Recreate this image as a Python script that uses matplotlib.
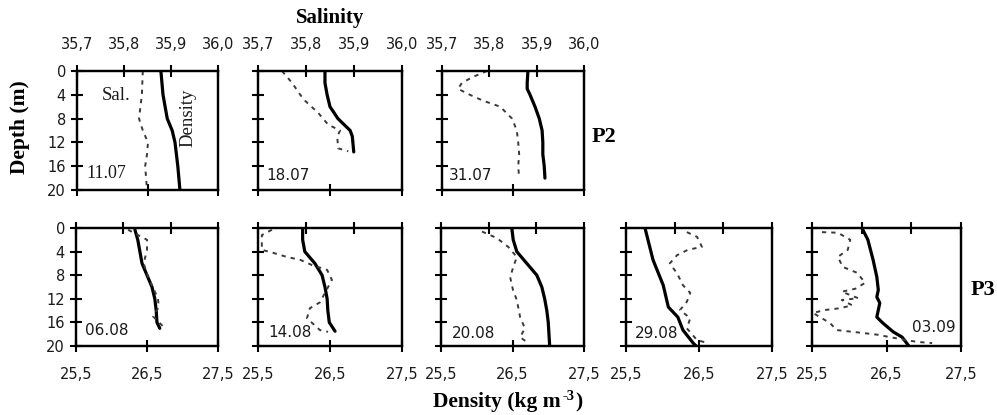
import matplotlib
matplotlib.use("Agg")
import matplotlib.pyplot as plt
from matplotlib.transforms import offset_copy

plt.rcParams["font.family"] = ["DejaVu Sans"]

# ---- Profiles: station P2 (top row) and P3 (bottom row) ----
dates = ["11.07", "18.07", "31.07", "06.08", "14.08", "20.08", "29.08", "03.09"]
stations = ["P2", "P3"]

# density profiles (kg m-3) vs depth (m)
dens_depth = [
    [0, 4, 8, 10, 12, 16, 20],
    [0, 2, 4, 6, 8, 10, 11, 13.6],
    [0, 2, 3, 4, 6, 8, 10, 12, 14, 16, 18],
    [0.3, 2, 4, 6, 8, 10, 12, 14, 16, 17],
    [0, 2, 4, 5, 6, 8, 10, 12, 14, 16, 17.5],
    [0, 2, 4, 6, 8, 10, 12, 14, 16, 18, 20],
    [0, 5.4, 9.7, 13.4, 15.1, 17.3, 19.5, 20],
    [0, 2, 5.4, 8.3, 10.5, 11.7, 12.7, 15.1, 16.1, 17.6, 18.5, 20],
]
dens_val = [
    [26.69, 26.72, 26.78, 26.85, 26.89, 26.93, 26.96],
    [26.43, 26.43, 26.46, 26.50, 26.61, 26.78, 26.81, 26.83],
    [26.71, 26.70, 26.70, 26.74, 26.81, 26.87, 26.91, 26.92, 26.92, 26.94, 26.95],
    [26.33, 26.37, 26.40, 26.43, 26.50, 26.57, 26.61, 26.63, 26.64, 26.68],
    [26.12, 26.12, 26.15, 26.22, 26.29, 26.39, 26.43, 26.46, 26.47, 26.49, 26.57],
    [26.49, 26.51, 26.56, 26.70, 26.84, 26.91, 26.95, 26.98, 27.00, 27.01, 27.02],
    [25.76, 25.87, 26.01, 26.08, 26.21, 26.28, 26.42, 26.46],
    [26.17, 26.25, 26.32, 26.37, 26.39, 26.37, 26.41, 26.37, 26.45, 26.59, 26.71, 26.80],
]

# salinity profiles vs depth (m)
sal_depth = [
    [0, 4, 8, 10, 12, 14, 16, 18, 20],
    [0, 2, 4, 5, 7, 9, 10, 11, 13, 13.5],
    [0, 1, 2, 3, 4, 5, 6, 8, 10, 12, 14, 16, 18],
    [0.3, 2, 3.7, 6, 8, 10, 11.9, 13.4, 15, 17],
    [0.3, 1.2, 2.3, 3.7, 4.2, 4.9, 5.4, 6.3, 7.1, 8.8, 12.6, 13.6, 15.3, 17.3, 17.6],
    [0.6, 1.7, 3.2, 4.9, 6.8, 8.3, 10.5, 12.2, 15.1, 17, 18.5, 19.5],
    [0.7, 1.5, 3.2, 3.7, 4.6, 6, 7.7, 9.7, 11, 12.5, 13.9, 15.3, 17, 19, 19.5],
    [0.7, 0.8, 2.0, 3.7, 4.9, 6.6, 7.6, 9.3, 10.3, 10.8, 11.9, 12.2, 13.1, 13.6,
     13.9, 14.4, 16.1, 17.3, 17.8, 18.1, 18.5, 19.3, 19.5],
]
sal_val = [
    [35.840, 35.838, 35.832, 35.840, 35.851, 35.849, 35.845, 35.847, 35.849],
    [35.750, 35.771, 35.788, 35.798, 35.825, 35.846, 35.871, 35.865, 35.867, 35.888],
    [35.795, 35.765, 35.742, 35.734, 35.759, 35.787, 35.823, 35.848, 35.858, 35.861,
     35.863, 35.861, 35.863],
    [35.810, 35.850, 35.850, 35.843, 35.851, 35.862, 35.873, 35.875, 35.863, 35.888],
    [35.729, 35.708, 35.708, 35.708, 35.731, 35.760, 35.788, 35.813, 35.844, 35.854,
     35.829, 35.808, 35.802, 35.829, 35.846],
    [35.786, 35.817, 35.841, 35.859, 35.851, 35.845, 35.851, 35.859, 35.866, 35.876,
     35.866, 35.883],
    [35.825, 35.846, 35.856, 35.827, 35.805, 35.790, 35.805, 35.817, 35.832, 35.825,
     35.811, 35.832, 35.825, 35.846, 35.868],
    [35.720, 35.752, 35.777, 35.772, 35.752, 35.762, 35.791, 35.807, 35.787, 35.760,
     35.793, 35.760, 35.781, 35.756, 35.726, 35.702, 35.736, 35.750, 35.803, 35.833,
     35.857, 35.911, 35.942],
]

sal_ticks = [35.7, 35.8, 35.9, 36.0]
sal_ticklabels = ["35,7", "35,8", "35,9", "36,0"]
dens_ticks = [25.5, 26.5, 27.5]
dens_ticklabels = ["25,5", "26,5", "27,5"]
depth_ticks = [0, 4, 8, 12, 16, 20]
depth_ticklabels = ["0", "4", "8", "12", "16", "20"]

W, H = 997, 415
fig = plt.figure(figsize=(W / 100, H / 100), dpi=100)

# panel boxes in pixels: (left, top, right, bottom)
top_row = [(77, 71, 218, 190), (258, 71, 402, 190), (442, 71, 584, 190)]
bot_row = [(76, 228, 218, 346), (258, 228, 402, 346), (441, 228, 584, 346),
           (626, 228, 772, 346), (812, 228, 961, 346)]
boxes = top_row + bot_row

serif = ["Liberation Serif", "DejaVu Serif"]
tick_kw = dict(direction="inout", length=8, width=1.5, colors="black",
               labelsize=10.5, labelcolor="#1a1a1a")

# date label anchor (pixel x, y of text centre)
date_pos = [(106, 173), (288, 175), (471, 175), (107, 330), (290, 332),
            (474, 333), (657, 333), (934, 328)]

for i, (l, t, r, b) in enumerate(boxes):
    rect = [l / W, 1 - b / H, (r - l) / W, (b - t) / H]
    ax = fig.add_axes(rect)
    top = i < 3
    first = i in (0, 3)

    ax.plot(dens_val[i], dens_depth[i], color="black", lw=2.3,
            solid_capstyle="round", zorder=3)
    ax.set_xlim(25.5, 27.5)
    ax.set_ylim(20, 0)
    ax.set_xticks(dens_ticks)
    ax.set_xticklabels(dens_ticklabels if not top else [""] * 3)
    ax.set_yticks(depth_ticks)
    ax.set_yticklabels(depth_ticklabels if first else [""] * 6)
    ax.tick_params(axis="both", **tick_kw)
    ax.tick_params(axis="x", pad=11)
    ax.tick_params(axis="y", pad=4)

    ax2 = ax.twiny()
    ax2.plot(sal_val[i], sal_depth[i], color="#3a3a3a", lw=1.4,
             dashes=(2.2, 2.6), zorder=2)
    ax2.set_xlim(35.7, 36.0)
    ax2.set_xticks(sal_ticks)
    ax2.set_xticklabels(sal_ticklabels if top else [""] * 4)
    ax2.tick_params(axis="x", pad=10, **tick_kw)

    for a in (ax, ax2):
        for s in a.spines.values():
            s.set_linewidth(1.6)
            s.set_color("black")

    # date of the cast
    dx, dy = date_pos[i]
    fig.text(dx / W, 1 - dy / H, dates[i], ha="center", va="center",
             fontsize=11 if i else 13, family=serif if i == 0 else ["DejaVu Sans"],
             color="#1a1a1a")

# curve labels in the first panel
fig.text(116 / W, 1 - 95 / H, "Sal.", ha="center", va="center",
         fontsize=13.5, family=serif, color="#1a1a1a")
fig.text(188 / W, 1 - 118 / H, "Density", ha="center", va="center",
         fontsize=13.5, family=serif, rotation=90, color="#1a1a1a")

# axis titles
bold_serif = dict(fontweight="bold", family=serif, color="black")
fig.text(330 / W, 1 - 18 / H, "Salinity", ha="center", va="center",
         fontsize=15, **bold_serif)
fig.text(20 / W, 1 - 127 / H, "Depth (m)", ha="center", va="center",
         fontsize=15.5, rotation=90, **bold_serif)

# density axis title with a small raised exponent
renderer = fig.canvas.get_renderer()
t1 = fig.text(433 / W, 1 - 401 / H, "Density (kg m", ha="left", va="baseline",
              fontsize=15.5, **bold_serif)
t1.set_y(1 - 407 / H)
bb = t1.get_window_extent(renderer)
t2 = fig.text(0, 0, "-3", ha="left", va="baseline", fontsize=10.5,
              transform=offset_copy(fig.transFigure, fig=fig, x=bb.x1 / 100 * 72 + 1,
                                    y=bb.y0 / 100 * 72 + 9, units="points"),
              **bold_serif)
bb2 = t2.get_window_extent(renderer)
fig.text(0, 0, ")", ha="left", va="baseline", fontsize=15.5,
         transform=offset_copy(fig.transFigure, fig=fig, x=bb2.x1 / 100 * 72 + 1,
                               y=(1 - 407 / H) * H / 100 * 72, units="points"),
         **bold_serif)

# station labels
fig.text(604 / W, 1 - 137 / H, stations[0], ha="center", va="center",
         fontsize=16, **bold_serif)
fig.text(983 / W, 1 - 290 / H, stations[1], ha="center", va="center",
         fontsize=16, **bold_serif)

fig.savefig("out.png", dpi=100, facecolor="white")
